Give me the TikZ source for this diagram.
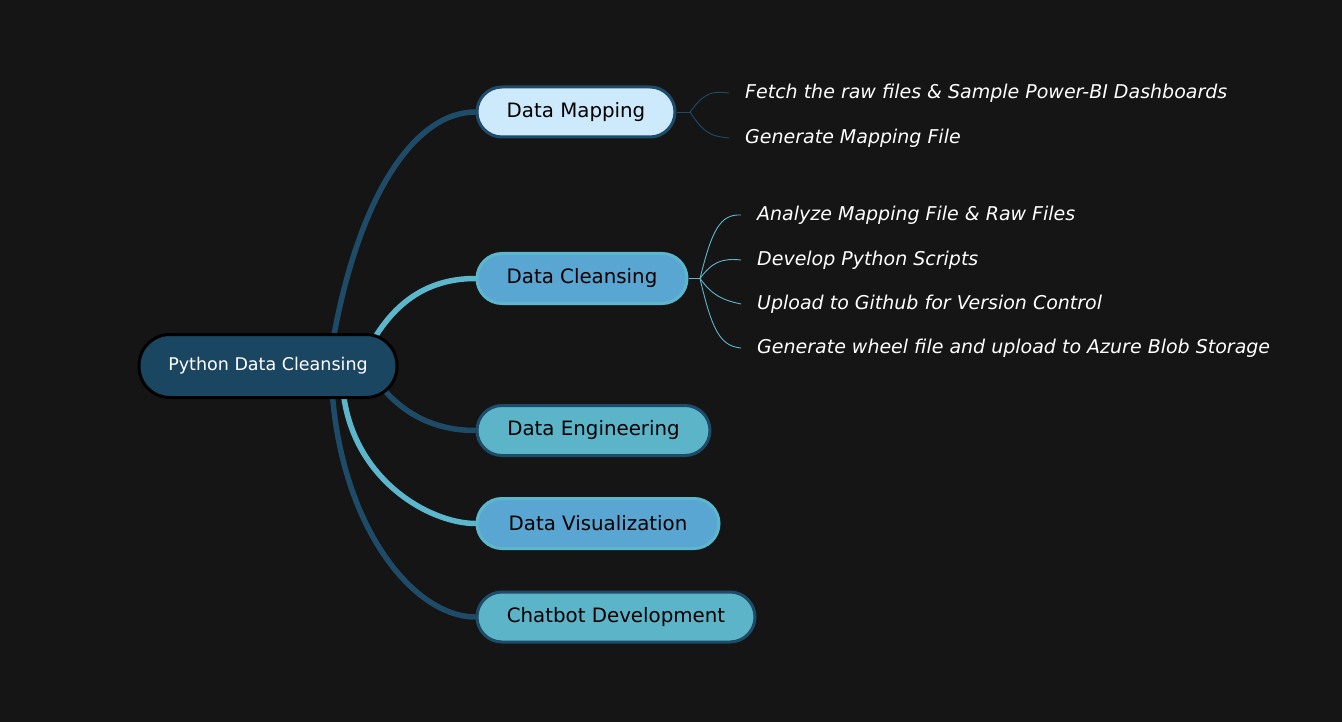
\documentclass[tikz,border=0pt]{standalone}
\usepackage{fontspec}
\setmainfont{DejaVu Sans}
\usetikzlibrary{backgrounds,calc}
\definecolor{bg}{HTML}{151515}
\definecolor{rootfill}{HTML}{1B4662}
\definecolor{darkb}{HTML}{1E4B68}
\definecolor{lightb}{HTML}{5CB7CD}
\definecolor{dmfill}{HTML}{CDEAFC}
\definecolor{dcfill}{HTML}{5AA6D2}
\definecolor{defill}{HTML}{5CB4C9}
\tikzset{
  rootbox/.style={draw=black, line width=3pt, fill=rootfill, rounded corners=31pt,
    minimum height=63pt, inner sep=0pt, text=white, font=\fontsize{17.5}{20}\selectfont},
  branchbox/.style={line width=3pt, rounded corners=25pt, minimum height=50pt,
    inner sep=0pt, text=black, font=\fontsize{19.8}{23}\selectfont},
  leaf/.style={anchor=west, inner sep=0pt, text=white, font=\fontsize{19}{22}\selectfont\itshape},
  thick link/.style={line width=5.5pt, line cap=round},
  thin link/.style={line width=0.9pt},
}
\begin{document}
\begin{tikzpicture}[x=1pt,y=-1pt]
\useasboundingbox (0,0) rectangle (1342,722);
% nodes
\node[rootbox, minimum width=258pt] (root) at (268,366) {Python Data Cleansing};
\node[branchbox, fill=dmfill, draw=darkb, minimum width=198pt] (dm) at (576,112) {Data Mapping};
\node[branchbox, fill=dcfill, draw=lightb, minimum width=210pt] (dc) at (582,278.5) {Data Cleansing};
\node[branchbox, fill=defill, draw=darkb, minimum width=233pt] (de) at (593.5,430.5) {Data Engineering};
\node[branchbox, fill=dcfill, draw=lightb, minimum width=242pt] (dv) at (598,523.5) {Data Visualization};
\node[branchbox, fill=defill, draw=darkb, minimum width=278pt] (cd) at (616,617) {Chatbot Development};
% leaves
\node[leaf] (m1) at (745,93) {Fetch the raw files \& Sample Power-BI Dashboards};
\node[leaf] (m2) at (745,138) {Generate Mapping File};
\node[leaf] (c1) at (757,215) {Analyze Mapping File \& Raw Files};
\node[leaf] (c2) at (757,260) {Develop Python Scripts};
\node[leaf] (c3) at (757,304) {Upload to Github for Version Control};
\node[leaf] (c4) at (757,348) {Generate wheel file and upload to Azure Blob Storage};
\coordinate (jm) at (690,112);
\coordinate (jc) at (700,278.5);
\begin{scope}[on background layer]
\fill[bg] (0,0) rectangle (1342,722);
% main branches
\draw[thick link, darkb] ($(root.center)+(64,-20)$) .. controls (358,195) and (415,112) .. (dm.west);
\draw[thick link, lightb] ($(root.center)+(102,-20)$) .. controls (395,300) and (430,278.5) .. (dc.west);
\draw[thick link, darkb] ($(root.center)+(112,19)$) .. controls (400,410) and (430,430.5) .. (de.west);
\draw[thick link, lightb] ($(root.center)+(75,24)$) .. controls (352,480) and (430,523.5) .. (dv.west);
\draw[thick link, darkb] ($(root.center)+(64,24)$) .. controls (342,530) and (415,617) .. (cd.west);
% leaf links
\draw[thin link, darkb] (dm.east) -- (jm);
\draw[thin link, darkb] (jm) .. controls (705,92) and (712,91) .. ([xshift=-16pt]m1.west);
\draw[thin link, darkb] (jm) .. controls (705,135) and (712,136) .. ([xshift=-16pt]m2.west);
\draw[thin link, lightb] (dc.east) -- (jc);
\draw[thin link, lightb] (jc) .. controls (712,230) and (720,214) .. ([xshift=-16pt]c1.west);
\draw[thin link, lightb] (jc) .. controls (712,262) and (722,258) .. ([xshift=-16pt]c2.west);
\draw[thin link, lightb] (jc) .. controls (712,295) and (722,300) .. ([xshift=-16pt]c3.west);
\draw[thin link, lightb] (jc) .. controls (712,330) and (720,346) .. ([xshift=-16pt]c4.west);
\end{scope}
\end{tikzpicture}
\end{document}
